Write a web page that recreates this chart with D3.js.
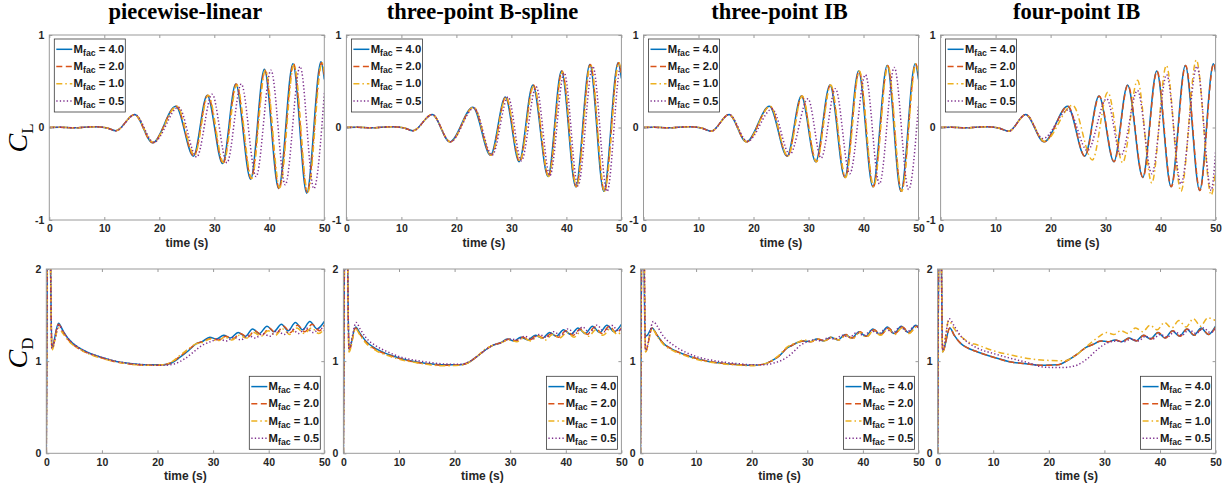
<!DOCTYPE html>
<html><head><meta charset="utf-8">
<script src="https://cdn.jsdelivr.net/npm/d3@7"></script>
<style>body{margin:0;background:#fff} svg{display:block}</style>
</head><body><svg id="c" width="1228" height="489"></svg>
<script>
// ---------------- data ----------------
const TITLES = ["piecewise-linear", "three-point B-spline", "three-point IB", "four-point IB"];
const LEGEND_LABELS = ["4.0", "2.0", "1.0", "0.5"];
const X_TICKS = [0, 10, 20, 30, 40, 50];
const CL_TICKS = [-1, 0, 1];
const CD_TICKS = [0, 1, 2];

// C_L, piecewise-linear
const CL_PL_M4 = [[0,0],[2,0.002],[4.5,-0.004],[8.2,0.008],[10.5,-0.005],[12.1,-0.035],[15.5,0.14],[18.8,-0.165],[23.0,0.23],[26.2,-0.31],[28.7,0.35],[31.5,-0.39],[33.9,0.47],[36.6,-0.56],[39.1,0.63],[41.7,-0.66],[44.3,0.69],[46.8,-0.71],[49.4,0.71],[50,0.52]];
const CL_PL_M2 = [[0,0],[2,0.002],[4.5,-0.004],[8.2,0.008],[10.5,-0.005],[12.1,-0.035],[15.5,0.14],[18.8,-0.165],[23.1,0.23],[26.3,-0.31],[28.8,0.35],[31.6,-0.39],[34.0,0.47],[36.7,-0.55],[39.2,0.62],[41.8,-0.66],[44.4,0.69],[46.9,-0.70],[49.5,0.70],[50,0.56]];
const CL_PL_M1 = [[0,0],[2,0.002],[4.5,-0.004],[8.2,0.008],[10.5,-0.005],[12.1,-0.035],[15.5,0.14],[18.9,-0.16],[23.2,0.23],[26.4,-0.30],[28.9,0.35],[31.7,-0.38],[34.1,0.46],[36.8,-0.55],[39.3,0.62],[41.9,-0.65],[44.5,0.68],[47.0,-0.70],[49.6,0.70],[50,0.6]];
const CL_PL_M05 = [[0,0],[2,0.002],[4.5,-0.004],[8.2,0.008],[10.5,-0.005],[12.1,-0.035],[15.6,0.14],[19.0,-0.16],[23.5,0.22],[26.8,-0.32],[29.6,0.36],[32.3,-0.38],[34.9,0.47],[37.6,-0.53],[40.3,0.62],[42.9,-0.62],[45.6,0.66],[48.1,-0.66],[50,0.37]];
// C_L, three-point B-spline
const CL_BS_M4 = [[0,0],[2,0.002],[4.5,-0.004],[8.2,0.008],[10.5,-0.005],[12.1,-0.035],[15.6,0.14],[18.8,-0.155],[23.0,0.22],[26.2,-0.30],[28.9,0.33],[31.4,-0.37],[33.9,0.46],[36.65,-0.53],[39.1,0.61],[41.7,-0.64],[44.25,0.68],[46.8,-0.69],[49.4,0.70],[50,0.53]];
const CL_BS_M2 = [[0,0],[2,0.002],[4.5,-0.004],[8.2,0.008],[10.5,-0.005],[12.1,-0.035],[15.6,0.14],[18.85,-0.155],[23.1,0.22],[26.3,-0.30],[29.0,0.33],[31.5,-0.37],[34.0,0.46],[36.75,-0.53],[39.2,0.61],[41.8,-0.64],[44.35,0.68],[46.9,-0.69],[49.5,0.70],[50,0.58]];
const CL_BS_M1 = [[0,0],[2,0.002],[4.5,-0.004],[8.2,0.008],[10.5,-0.005],[12.1,-0.035],[15.6,0.14],[18.9,-0.155],[23.15,0.22],[26.35,-0.30],[29.05,0.33],[31.55,-0.36],[34.05,0.45],[36.8,-0.53],[39.25,0.60],[41.85,-0.64],[44.4,0.68],[46.95,-0.69],[49.55,0.70],[50,0.6]];
const CL_BS_M05 = [[0,0],[2,0.002],[4.5,-0.004],[8.2,0.008],[10.5,-0.005],[12.1,-0.035],[15.6,0.14],[18.9,-0.155],[23.2,0.21],[26.5,-0.30],[29.4,0.33],[31.8,-0.36],[34.5,0.44],[37.0,-0.52],[39.6,0.59],[42.1,-0.63],[44.8,0.66],[47.4,-0.69],[49.9,0.67],[50,0.66]];
// C_L, three-point IB
const CL_IB3_M4 = [[0,0],[2,0.002],[4.5,-0.004],[8.2,0.008],[10.5,-0.005],[12.3,-0.04],[15.55,0.14],[18.7,-0.155],[22.9,0.23],[26.1,-0.31],[28.7,0.34],[31.3,-0.37],[33.9,0.46],[36.6,-0.54],[39.1,0.61],[41.7,-0.64],[44.3,0.67],[46.8,-0.69],[49.4,0.69],[50,0.52]];
const CL_IB3_M2 = [[0,0],[2,0.002],[4.5,-0.004],[8.2,0.008],[10.5,-0.005],[12.3,-0.04],[15.55,0.14],[18.75,-0.155],[23.0,0.23],[26.2,-0.31],[28.8,0.34],[31.4,-0.37],[34.0,0.46],[36.7,-0.54],[39.2,0.61],[41.8,-0.64],[44.4,0.67],[46.9,-0.69],[49.5,0.69],[50,0.56]];
const CL_IB3_M1 = [[0,0],[2,0.002],[4.5,-0.004],[8.2,0.008],[10.5,-0.005],[12.3,-0.04],[15.6,0.14],[18.8,-0.155],[23.05,0.23],[26.25,-0.31],[28.85,0.34],[31.45,-0.37],[34.05,0.46],[36.75,-0.54],[39.25,0.61],[41.85,-0.64],[44.45,0.67],[46.95,-0.69],[49.55,0.69],[50,0.6]];
const CL_IB3_M05 = [[0,0],[2,0.002],[4.5,-0.004],[8.2,0.008],[10.5,-0.005],[12.3,-0.04],[15.6,0.14],[18.9,-0.15],[23.4,0.2],[26.6,-0.29],[29.9,0.31],[32.3,-0.33],[34.9,0.42],[37.5,-0.50],[40.35,0.57],[42.9,-0.61],[45.6,0.65],[48.2,-0.67],[50,0.25]];
// C_L, four-point IB
const CL_IB4_M4 = [[0,0],[2,0.002],[4.5,-0.004],[8.2,0.008],[10.5,-0.005],[12.4,-0.04],[15.45,0.14],[18.8,-0.155],[23.1,0.23],[26.2,-0.31],[28.8,0.34],[31.5,-0.37],[34.0,0.46],[36.75,-0.54],[39.3,0.61],[41.9,-0.64],[44.5,0.67],[47.1,-0.68],[49.6,0.69],[50,0.6]];
const CL_IB4_M2 = [[0,0],[2,0.002],[4.5,-0.004],[8.2,0.008],[10.5,-0.005],[12.4,-0.04],[15.5,0.14],[18.85,-0.155],[23.15,0.23],[26.25,-0.31],[28.85,0.34],[31.55,-0.37],[34.05,0.46],[36.8,-0.54],[39.35,0.61],[41.95,-0.64],[44.55,0.67],[47.15,-0.68],[49.65,0.69],[50,0.62]];
const CL_IB4_M1 = [[0,0],[2,0.002],[4.5,-0.004],[8.2,0.008],[10.5,-0.005],[12.4,-0.04],[15.5,0.14],[18.9,-0.15],[24.0,0.24],[27.6,-0.35],[30.4,0.38],[33.1,-0.38],[35.8,0.51],[38.4,-0.60],[41.05,0.67],[43.7,-0.69],[46.5,0.73],[49.2,-0.73],[50,-0.46]];
const CL_IB4_M05 = [[0,0],[2,0.002],[4.5,-0.004],[8.2,0.008],[10.5,-0.005],[12.4,-0.04],[15.5,0.14],[18.6,-0.12],[23.2,0.19],[26.7,-0.25],[30.2,0.31],[32.8,-0.30],[35.8,0.40],[38.4,-0.50],[41.1,0.57],[43.7,-0.61],[46.6,0.66],[49.2,-0.68],[50,-0.26]];

// C_D, piecewise-linear
const CD_PL_M4 = [[0,0],[0.3,2.6],[0.6,2.6],[1.0,1.15],[2.2,1.41],[3,1.33],[4,1.24],[6,1.14],[8,1.08],[10,1.04],[12,1.005],[15,0.975],[18,0.96],[21,0.96],[22.5,0.98],[24,1.04],[25.5,1.11],[27,1.19],[28,1.21],[29.4,1.26],[30.6,1.24],[31.9,1.28],[33.1,1.25],[34.5,1.31],[35.8,1.27],[37.1,1.35],[38.3,1.3],[39.7,1.38],[40.9,1.32],[42.3,1.4],[43.5,1.33],[44.8,1.42],[46.1,1.34],[47.4,1.43],[48.7,1.35],[50,1.43]];
const CD_PL_M2 = [[0,0],[0.3,2.6],[0.6,2.6],[1.0,1.14],[2.2,1.40],[3,1.32],[4,1.23],[6,1.13],[8,1.075],[10,1.035],[12,1.0],[15,0.97],[18,0.955],[21,0.96],[22.5,0.985],[24,1.05],[25.5,1.12],[27,1.19],[28,1.21],[29.8,1.25],[31.0,1.23],[32.3,1.27],[33.5,1.24],[34.9,1.30],[36.2,1.26],[37.5,1.33],[38.8,1.28],[40.1,1.36],[41.3,1.30],[42.7,1.38],[43.9,1.31],[45.2,1.39],[46.5,1.32],[47.8,1.40],[49.1,1.33],[50,1.39]];
const CD_PL_M1 = [[0,0],[0.3,2.6],[0.6,2.6],[1.0,1.12],[2.2,1.36],[3,1.3],[4,1.22],[6,1.13],[8,1.07],[10,1.03],[12,1.0],[15,0.97],[18,0.955],[21,0.96],[22.5,0.99],[24,1.06],[25.5,1.13],[27,1.19],[28,1.2],[29.5,1.24],[30.8,1.22],[32.1,1.26],[33.4,1.23],[34.7,1.28],[36,1.25],[37.3,1.31],[38.6,1.27],[39.9,1.33],[41.2,1.28],[42.5,1.35],[43.8,1.29],[45.1,1.36],[46.4,1.30],[47.7,1.36],[49,1.30],[50,1.35]];
const CD_PL_M05 = [[0,0],[0.3,2.6],[0.6,2.6],[1.0,1.14],[2.3,1.39],[3,1.32],[4,1.24],[6,1.14],[8,1.08],[10,1.04],[12,1.005],[15,0.975],[18,0.96],[21,0.955],[23,0.97],[25,1.03],[26.5,1.1],[28,1.17],[29.5,1.21],[31,1.24],[32.4,1.22],[33.7,1.26],[35,1.23],[36.3,1.28],[37.6,1.25],[38.9,1.3],[40.2,1.27],[41.5,1.33],[42.8,1.29],[44.1,1.35],[45.4,1.30],[46.7,1.36],[48,1.31],[49.3,1.36],[50,1.33]];
// C_D, three-point B-spline
const CD_BS_M4 = [[0,0],[0.3,2.6],[0.6,2.6],[1.0,1.12],[2.2,1.37],[3,1.3],[4,1.22],[6,1.13],[8,1.075],[10,1.035],[12,1.005],[15,0.975],[18,0.96],[21,0.96],[22.5,0.985],[24,1.05],[25.5,1.12],[26.8,1.17],[28.3,1.2],[29.5,1.24],[30.7,1.22],[31.9,1.26],[33.2,1.23],[34.5,1.28],[35.8,1.25],[37.1,1.31],[38.3,1.27],[39.6,1.34],[40.9,1.29],[42.2,1.36],[43.5,1.3],[44.8,1.38],[46.1,1.31],[47.4,1.39],[48.7,1.32],[50,1.40]];
const CD_BS_M2 = [[0,0],[0.3,2.6],[0.6,2.6],[1.0,1.11],[2.2,1.36],[3,1.29],[4,1.21],[6,1.12],[8,1.07],[10,1.03],[12,1.0],[15,0.97],[18,0.955],[21,0.96],[22.5,0.985],[24,1.05],[25.5,1.12],[26.8,1.17],[28.3,1.2],[29.8,1.24],[31,1.22],[32.2,1.26],[33.5,1.23],[34.8,1.28],[36.1,1.25],[37.4,1.3],[38.7,1.26],[40,1.33],[41.3,1.28],[42.6,1.35],[43.9,1.29],[45.2,1.37],[46.5,1.3],[47.8,1.38],[49.1,1.31],[50,1.36]];
const CD_BS_M1 = [[0,0],[0.3,2.6],[0.6,2.6],[1.0,1.1],[2.2,1.35],[3,1.28],[4,1.2],[6,1.11],[8,1.06],[10,1.02],[12,0.995],[15,0.965],[18,0.95],[21,0.955],[22.5,0.985],[24,1.05],[25.5,1.13],[26.8,1.17],[28.3,1.2],[29.9,1.23],[31.2,1.21],[32.4,1.25],[33.7,1.22],[35,1.27],[36.3,1.23],[37.6,1.29],[38.9,1.25],[40.2,1.31],[41.5,1.26],[42.8,1.33],[44.1,1.27],[45.4,1.34],[46.7,1.28],[48,1.35],[49.3,1.29],[50,1.33]];
const CD_BS_M05 = [[0,0],[0.3,2.6],[0.6,2.6],[1.0,1.14],[2.3,1.42],[3,1.35],[4,1.26],[6,1.16],[8,1.1],[10,1.05],[12,1.02],[15,0.99],[18,0.97],[21,0.965],[22.5,0.99],[24,1.05],[25.5,1.12],[26.8,1.17],[28.3,1.2],[30,1.24],[31.3,1.23],[32.6,1.27],[33.9,1.24],[35.2,1.29],[36.5,1.26],[37.8,1.32],[39.1,1.28],[40.4,1.35],[41.7,1.3],[43,1.37],[44.3,1.31],[45.6,1.39],[46.9,1.32],[48.2,1.39],[49.5,1.33],[50,1.36]];
// C_D, three-point IB
const CD_IB3_M4 = [[0,0],[0.3,2.6],[0.55,2.6],[0.8,1.27],[1.2,1.28],[2.1,1.36],[3,1.28],[4,1.2],[6,1.12],[8,1.07],[10,1.03],[12,1.0],[15,0.975],[18,0.96],[20,0.955],[22,0.965],[23.5,1.0],[25,1.06],[26.3,1.14],[27.2,1.17],[28.1,1.2],[29.3,1.22],[30.5,1.21],[31.7,1.24],[33,1.22],[34.2,1.26],[35.5,1.23],[36.8,1.29],[38,1.25],[39.3,1.32],[40.5,1.27],[41.8,1.35],[43.1,1.29],[44.4,1.37],[45.6,1.3],[46.9,1.38],[48.2,1.31],[49.5,1.39],[50,1.37]];
const CD_IB3_M2 = [[0,0],[0.3,2.6],[0.55,2.6],[0.9,1.1],[2.1,1.36],[3,1.28],[4,1.2],[6,1.12],[8,1.07],[10,1.03],[12,1.0],[15,0.975],[18,0.96],[20,0.955],[22,0.965],[23.5,1.0],[25,1.06],[26.3,1.14],[27.2,1.17],[28.1,1.2],[29.5,1.22],[30.7,1.21],[31.9,1.24],[33.2,1.22],[34.4,1.26],[35.7,1.23],[37,1.29],[38.2,1.25],[39.5,1.32],[40.7,1.27],[42,1.34],[43.3,1.29],[44.6,1.36],[45.8,1.3],[47.1,1.37],[48.4,1.31],[49.7,1.38],[50,1.37]];
const CD_IB3_M1 = [[0,0],[0.3,2.6],[0.55,2.6],[0.9,1.1],[2.1,1.35],[3,1.27],[4,1.19],[6,1.11],[8,1.06],[10,1.02],[12,0.995],[15,0.97],[18,0.955],[20,0.95],[22,0.965],[23.5,1.0],[25,1.07],[26.3,1.15],[27.2,1.18],[28.1,1.2],[29.4,1.23],[30.6,1.21],[31.8,1.24],[33.1,1.22],[34.3,1.26],[35.6,1.23],[36.9,1.28],[38.1,1.24],[39.4,1.31],[40.6,1.26],[41.9,1.33],[43.2,1.28],[44.5,1.35],[45.7,1.29],[47,1.36],[48.3,1.3],[49.6,1.37],[50,1.35]];
const CD_IB3_M05 = [[0,0],[0.3,2.6],[0.55,2.6],[0.9,1.12],[2.3,1.43],[3,1.38],[4,1.28],[6,1.17],[8,1.1],[10,1.05],[12,1.02],[15,0.99],[18,0.97],[20,0.96],[22,0.96],[24,0.98],[26.3,1.04],[27.5,1.1],[28.7,1.17],[30,1.21],[31.1,1.23],[32.4,1.22],[33.7,1.25],[35,1.24],[36.3,1.28],[37.6,1.26],[38.9,1.31],[40.2,1.28],[41.5,1.33],[42.8,1.3],[44.1,1.35],[45.4,1.31],[46.7,1.37],[48,1.32],[49.3,1.38],[50,1.36]];
// C_D, four-point IB
const CD_IB4_M4 = [[0,0],[0.3,2.6],[0.55,2.6],[0.9,1.1],[2.2,1.36],[3,1.28],[4.2,1.19],[5.5,1.14],[7.2,1.1],[10.2,1.04],[13.2,0.99],[16.2,0.97],[19.2,0.955],[21.6,0.96],[23.4,1.01],[25.2,1.08],[26.7,1.15],[27.9,1.18],[29.4,1.22],[30.6,1.21],[31.9,1.23],[33.1,1.21],[34.4,1.25],[35.7,1.22],[37,1.28],[38.3,1.24],[39.6,1.31],[40.9,1.25],[42.2,1.33],[43.5,1.27],[44.8,1.35],[46.1,1.28],[47.4,1.36],[48.7,1.29],[50,1.38]];
const CD_IB4_M2 = [[0,0],[0.3,2.6],[0.55,2.6],[0.9,1.1],[2.2,1.36],[3,1.28],[4.2,1.19],[5.5,1.14],[7.2,1.1],[10.2,1.04],[13.2,0.99],[16.2,0.97],[19.2,0.955],[21.6,0.96],[23.4,1.01],[25.2,1.08],[26.7,1.15],[27.9,1.18],[29.4,1.22],[30.7,1.21],[32,1.23],[33.2,1.21],[34.5,1.25],[35.8,1.22],[37.1,1.28],[38.4,1.24],[39.7,1.31],[41,1.25],[42.3,1.33],[43.6,1.27],[44.9,1.35],[46.2,1.28],[47.5,1.35],[48.8,1.29],[50,1.37]];
const CD_IB4_M1 = [[0,0],[0.3,2.6],[0.55,2.6],[0.9,1.1],[2.0,1.44],[3,1.35],[4.2,1.27],[5.5,1.21],[7.2,1.175],[10.2,1.11],[13.2,1.067],[16.2,1.03],[19.2,1.01],[22.8,1.005],[25.2,1.08],[27.6,1.2],[29.1,1.27],[30.4,1.31],[31.7,1.29],[33,1.33],[34.3,1.3],[35.6,1.36],[36.9,1.32],[38.2,1.39],[39.5,1.34],[40.8,1.42],[42.1,1.36],[43.4,1.44],[44.7,1.37],[46,1.46],[47.3,1.38],[48.6,1.47],[50,1.44]];
const CD_IB4_M05 = [[0,0],[0.3,2.6],[0.55,2.6],[0.9,1.12],[2.1,1.46],[3,1.38],[4.2,1.27],[5.5,1.2],[7.2,1.14],[10.2,1.08],[13.2,1.03],[16.2,0.985],[19.2,0.935],[22.2,0.93],[24,0.94],[25.2,0.96],[27,1.03],[28.8,1.13],[30.6,1.2],[32.4,1.22],[33.5,1.21],[34.8,1.24],[36.1,1.22],[37.4,1.27],[38.7,1.24],[40,1.29],[41.3,1.26],[42.6,1.32],[43.9,1.28],[45.2,1.34],[46.5,1.3],[47.8,1.36],[49.1,1.31],[50,1.35]];

// ---------------- drawing ----------------
const CL_SETS = [
  [CL_PL_M4, CL_PL_M2, CL_PL_M1, CL_PL_M05],
  [CL_BS_M4, CL_BS_M2, CL_BS_M1, CL_BS_M05],
  [CL_IB3_M4, CL_IB3_M2, CL_IB3_M1, CL_IB3_M05],
  [CL_IB4_M4, CL_IB4_M2, CL_IB4_M1, CL_IB4_M05]
];
const CD_SETS = [
  [CD_PL_M4, CD_PL_M2, CD_PL_M1, CD_PL_M05],
  [CD_BS_M4, CD_BS_M2, CD_BS_M1, CD_BS_M05],
  [CD_IB3_M4, CD_IB3_M2, CD_IB3_M1, CD_IB3_M05],
  [CD_IB4_M4, CD_IB4_M2, CD_IB4_M1, CD_IB4_M05]
];

const COLORS = ["#0072BD", "#D95319", "#EDB120", "#7E2F8E"];
const DASH = [null, "6,3.5", "6,3,1.5,3", "1.3,2.2"];
const SANS = "'Liberation Sans', Helvetica, Arial, sans-serif";
const SERIF = "'Liberation Serif', 'Times New Roman', serif";

const svg = d3.select("#c");
const defs = svg.append("defs");

function drawLegend(g, lx, ly) {
  const w = 71, h = 73;
  g.append("rect").attr("x", lx).attr("y", ly).attr("width", w).attr("height", h)
    .attr("fill", "#fff").attr("stroke", "#3a3a3a").attr("stroke-width", 0.8);
  LEGEND_LABELS.forEach((lab, k) => {
    const cy = ly + 10.3 + k * 17.2;
    g.append("line").attr("x1", lx + 2).attr("x2", lx + 18).attr("y1", cy).attr("y2", cy)
      .attr("stroke", COLORS[k]).attr("stroke-width", 1.5).attr("stroke-dasharray", DASH[k]);
    const t = g.append("text").attr("x", lx + 19.3).attr("y", cy + 3.6)
      .attr("font-family", SANS).attr("font-weight", "bold").attr("font-size", 11.3).attr("fill", "#1a1a1a");
    t.append("tspan").text("M");
    t.append("tspan").attr("font-size", 8.7).attr("dy", 3).text("fac");
    t.append("tspan").attr("dy", -3).text(" = " + lab);
  });
}

function drawAxes(o) {
  const x = d3.scaleLinear().domain([0, 50]).range([o.x0, o.x1]);
  const y = d3.scaleLinear().domain(o.domain).range([o.y1, o.y0]);
  const g = svg.append("g");
  defs.append("clipPath").attr("id", "clip" + o.id).append("rect")
    .attr("x", o.x0).attr("y", o.y0).attr("width", o.x1 - o.x0).attr("height", o.y1 - o.y0);

  const line = d3.line().x(d => x(d[0])).y(d => y(d[1])).curve(d3.curveMonotoneX);
  const lg = g.append("g").attr("clip-path", `url(#clip${o.id})`);
  o.series.forEach((s, k) => {
    lg.append("path").attr("d", line(s)).attr("fill", "none")
      .attr("stroke", COLORS[k]).attr("stroke-width", 1.5)
      .attr("stroke-dasharray", DASH[k]);
  });

  const fmt = d => String(d);
  const ax = (axis, tx, ty) => g.append("g").attr("transform", `translate(${tx},${ty})`)
    .call(axis).call(a => a.select(".domain").remove());
  ax(d3.axisBottom(x).tickValues(X_TICKS).tickFormat(fmt).tickSizeInner(-3).tickSizeOuter(0).tickPadding(5), 0, o.y1);
  ax(d3.axisTop(x).tickValues(X_TICKS).tickFormat("").tickSizeInner(-3).tickSizeOuter(0), 0, o.y0);
  ax(d3.axisLeft(y).tickValues(o.ticks).tickFormat(fmt).tickSizeInner(-3).tickSizeOuter(0).tickPadding(5), o.x0, 0);
  ax(d3.axisRight(y).tickValues(o.ticks).tickFormat("").tickSizeInner(-3).tickSizeOuter(0), o.x1, 0);
  g.selectAll(".tick line").attr("stroke", "#9a9a9a");
  g.selectAll(".tick text").attr("font-family", SANS).attr("font-weight", "bold")
    .attr("font-size", 10.5).attr("fill", "#262626");

  g.append("rect").attr("x", o.x0).attr("y", o.y0).attr("width", o.x1 - o.x0).attr("height", o.y1 - o.y0)
    .attr("fill", "none").attr("stroke", "#9a9a9a").attr("stroke-width", 1);

  g.append("text").attr("x", (o.x0 + o.x1) / 2).attr("y", o.y1 + 27).attr("text-anchor", "middle")
    .attr("font-family", SANS).attr("font-weight", "bold").attr("font-size", 12).attr("fill", "#262626")
    .text("time (s)");

  if (o.legend === "tl") drawLegend(g, o.x0 + 5, o.y0 + 4);
  else drawLegend(g, o.x1 - 4 - 71, o.y1 - 4 - 73);
}

TITLES.forEach((title, i) => {
  const xr = 324.3 + i * 297.1;
  drawAxes({ id: "t" + i, x0: xr - 275, x1: xr, y0: 35, y1: 220, domain: [-1, 1], ticks: CL_TICKS, series: CL_SETS[i], legend: "tl" });
  drawAxes({ id: "b" + i, x0: xr - 278, x1: xr, y0: 269, y1: 453.3, domain: [0, 2], ticks: CD_TICKS, series: CD_SETS[i], legend: "br" });
  svg.append("text").attr("x", xr - 139).attr("y", 19).attr("text-anchor", "middle")
    .attr("font-family", SERIF).attr("font-weight", "bold").attr("font-size", 22.5).attr("fill", "#000")
    .text(title);
});

function yLabel(cy, sub) {
  const t = svg.append("text").attr("transform", `translate(27,${cy}) rotate(-90)`)
    .attr("text-anchor", "middle").attr("font-family", SERIF).attr("font-size", 28).attr("fill", "#000");
  t.append("tspan").attr("font-style", "italic").text("C");
  t.append("tspan").attr("font-size", 17).attr("dy", 6).text(sub);
}
yLabel(138, "L");
yLabel(353, "D");
</script>
</body></html>
